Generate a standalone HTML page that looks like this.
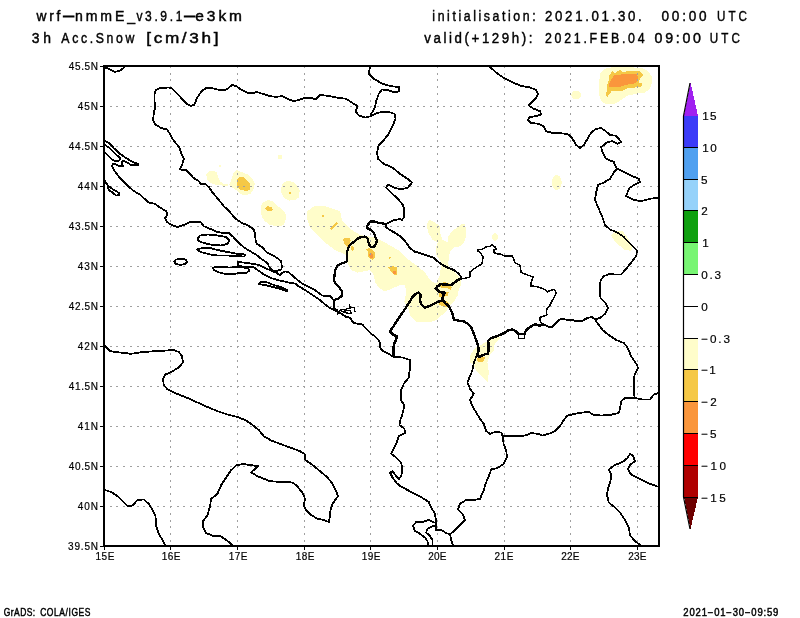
<!DOCTYPE html><html><head><meta charset="utf-8"><title>wrf-nmmE 3h Acc.Snow</title>
<style>html,body{margin:0;padding:0;background:#fff}svg{display:block}text{font-family:"Liberation Sans",sans-serif;fill:#000}</style></head><body>
<svg width="800" height="618" viewBox="0 0 800 618">
<rect width="800" height="618" fill="#fff"/>
<defs><clipPath id="cp"><rect x="104.4" y="65.9" width="555.0" height="479.7"/></clipPath></defs>
<g clip-path="url(#cp)">
<g shape-rendering="crispEdges">
<polygon fill="#fffdca" points="600.0,73.8 605.0,68.8 612.5,67.2 630.0,67.2 642.5,68.1 648.1,71.2 651.5,76.2 651.9,82.5 650.0,88.8 645.0,92.5 635.0,94.0 627.5,95.6 621.2,100.0 615.0,103.8 607.5,104.4 601.9,101.9 599.4,96.2 598.8,88.8 599.4,80.0"/>
<polygon fill="#fffdca" points="581.2,95.0 580.8,97.0 579.4,98.5 577.4,99.4 575.1,99.4 573.1,98.5 571.7,97.0 571.2,95.0 571.7,93.0 573.1,91.5 575.1,90.6 577.4,90.6 579.4,91.5 580.8,93.0"/>
<polygon fill="#fffdca" points="561.8,182.5 561.3,185.8 559.9,188.4 557.9,189.8 555.6,189.8 553.6,188.4 552.2,185.8 551.8,182.5 552.2,179.2 553.6,176.6 555.6,175.2 557.9,175.2 559.9,176.6 561.3,179.2"/>
<polygon fill="#fffdca" points="498.0,237.0 497.7,238.7 496.9,240.1 495.7,240.9 494.3,240.9 493.1,240.1 492.3,238.7 492.0,237.0 492.3,235.3 493.1,233.9 494.3,233.1 495.7,233.1 496.9,233.9 497.7,235.3"/>
<polygon fill="#fffdca" points="611.2,235.0 616.2,231.2 622.5,231.2 627.5,237.5 632.5,246.2 631.2,250.8 625.0,250.0 618.8,245.0 613.8,240.0"/>
<polygon fill="#fffdca" points="206.2,175.0 208.1,171.9 212.5,170.6 216.9,172.5 218.1,176.9 220.0,181.2 223.8,183.8 227.5,184.0 227.5,185.6 222.5,185.6 216.2,185.0 211.2,183.1 207.5,180.0"/>
<polygon fill="#fffdca" points="221.0,166.0 220.9,166.4 220.6,166.8 220.2,167.0 219.8,167.0 219.4,166.8 219.1,166.4 219.0,166.0 219.1,165.6 219.4,165.2 219.8,165.0 220.2,165.0 220.6,165.2 220.9,165.6"/>
<polygon fill="#fffdca" points="233.1,173.8 236.2,170.0 241.2,171.9 247.5,174.4 252.5,178.8 254.8,183.1 253.8,188.8 250.6,193.8 245.0,195.6 240.0,193.8 236.2,190.0 231.9,187.5 229.4,184.4 231.2,180.0"/>
<polygon fill="#fffdca" points="281.2,187.5 283.1,183.1 287.5,181.0 293.1,181.9 296.9,185.0 299.8,190.0 298.8,197.5 295.0,200.0 288.8,200.6 283.8,197.5 281.5,193.1"/>
<polygon fill="#fffdca" points="261.2,205.0 263.8,201.9 268.1,200.0 273.8,201.9 278.1,206.2 282.5,210.0 285.6,213.8 285.6,220.0 283.8,225.0 277.5,226.5 270.0,225.0 265.0,221.2 261.9,217.5 261.0,211.2"/>
<polygon fill="#fffdca" points="282.5,157.0 282.3,158.1 281.6,159.0 280.6,159.4 279.4,159.4 278.4,159.0 277.7,158.1 277.5,157.0 277.7,155.9 278.4,155.0 279.4,154.6 280.6,154.6 281.6,155.0 282.3,155.9"/>
<polygon fill="#fffdca" points="307.5,211.2 315.0,205.5 325.0,206.2 340.0,211.2 342.0,220.0 350.0,228.8 360.0,235.0 375.0,237.5 385.0,242.5 400.0,251.2 407.5,258.8 417.5,266.2 425.0,272.5 430.0,280.0 436.2,283.8 440.0,275.0 441.2,262.5 436.2,255.0 436.2,247.5 437.5,242.5 432.5,240.0 430.6,236.2 428.1,232.5 427.2,227.5 427.5,223.1 429.4,220.0 433.8,221.9 437.5,224.4 440.0,226.9 440.6,235.0 442.5,240.0 447.5,241.9 448.1,236.2 452.5,231.2 457.5,226.9 461.2,224.4 465.0,224.4 465.6,226.9 465.6,237.5 463.8,243.1 458.8,246.9 453.8,247.5 450.0,251.9 448.8,257.5 448.1,265.0 452.5,270.0 458.0,275.0 461.2,280.0 461.2,284.5 458.8,289.5 457.5,295.8 453.8,302.0 450.0,305.8 447.5,309.5 442.5,314.5 436.2,320.0 430.0,322.0 416.2,322.0 410.0,315.8 408.8,309.5 404.4,302.0 406.2,292.0 405.0,285.0 400.0,285.0 391.2,288.8 385.0,291.5 378.8,287.6 375.0,282.0 373.8,275.0 370.0,270.0 357.5,272.5 351.2,270.0 347.5,262.5 346.2,255.0 335.0,250.0 325.0,242.5 317.5,235.0 310.0,227.5 307.0,218.8"/>
<polygon fill="#fffdca" points="497.8,236.9 497.5,238.5 496.7,239.7 495.6,240.4 494.4,240.4 493.3,239.7 492.5,238.5 492.2,236.9 492.5,235.3 493.3,234.1 494.4,233.4 495.6,233.4 496.7,234.1 497.5,235.3"/>
<polygon fill="#fffdca" points="471.0,354.0 475.0,348.0 481.0,345.0 486.0,342.0 490.0,339.5 495.0,336.5 501.0,337.0 497.0,341.0 494.0,346.0 493.5,351.0 490.0,355.0 487.5,362.5 488.8,372.5 487.5,382.0 482.5,377.5 476.2,371.2 473.8,365.0 470.0,362.5 470.0,356.0"/>
<polygon fill="#f5c846" points="609.4,75.0 612.5,71.2 614.4,73.1 620.0,70.2 623.1,71.9 630.0,71.0 640.0,71.0 643.8,75.2 640.0,78.8 638.8,82.5 642.5,83.8 641.2,86.9 635.0,87.5 627.5,88.1 622.5,90.6 611.9,91.0 609.4,93.8 607.5,96.9 605.6,94.4 607.5,90.0 607.2,84.4 608.8,80.6"/>
<polygon fill="#f5c846" points="236.9,180.0 240.0,176.9 243.8,177.2 246.9,180.0 250.0,183.8 249.8,190.0 246.2,191.0 241.2,190.0 237.5,187.5"/>
<polygon fill="#f5c846" points="265.0,208.1 267.5,206.2 271.2,206.9 273.1,209.4 271.9,211.0 267.5,210.6"/>
<polygon fill="#f5c846" points="291.1,192.8 291.0,193.2 290.7,193.6 290.2,193.8 289.8,193.8 289.3,193.6 289.0,193.2 288.9,192.8 289.0,192.3 289.3,191.9 289.8,191.7 290.2,191.7 290.7,191.9 291.0,192.3"/>
<polygon fill="#f5c846" points="331.2,230.2 330.0,228.4 333.0,225.5 336.6,221.8 338.2,223.2 334.5,227.5"/>
<polygon fill="#f5c846" points="324.0,216.0 323.9,216.4 323.6,216.8 323.2,217.0 322.8,217.0 322.4,216.8 322.1,216.4 322.0,216.0 322.1,215.6 322.4,215.2 322.8,215.0 323.2,215.0 323.6,215.2 323.9,215.6"/>
<polygon fill="#f5c846" points="343.1,238.8 345.6,238.1 349.4,238.1 350.6,240.6 350.0,243.8 348.1,246.9 346.2,246.2 343.8,243.1"/>
<polygon fill="#f5c846" points="353.9,248.4 353.7,249.4 353.3,250.1 352.6,250.5 351.8,250.5 351.1,250.1 350.7,249.4 350.5,248.4 350.7,247.4 351.1,246.7 351.8,246.3 352.6,246.3 353.3,246.7 353.7,247.4"/>
<polygon fill="#f5c846" points="366.2,249.4 368.8,248.1 372.5,250.0 374.8,252.5 375.0,257.5 373.1,259.8 370.0,258.8 368.1,256.9 368.5,252.5"/>
<polygon fill="#f5c846" points="390.8,257.8 390.7,258.2 390.4,258.5 390.0,258.7 389.6,258.7 389.2,258.5 388.9,258.2 388.8,257.8 388.9,257.3 389.2,257.0 389.6,256.8 390.0,256.8 390.4,257.0 390.7,257.3"/>
<polygon fill="#f5c846" points="388.1,266.9 392.5,266.2 396.9,266.9 396.9,275.0 393.8,274.4 390.0,270.0"/>
<polygon fill="#f5c846" points="439.5,286.0 443.1,282.0 448.0,282.8 452.0,287.6 450.5,290.2 447.5,288.0 442.5,288.4"/>
<polygon fill="#f5c846" points="438.8,293.0 443.8,291.2 449.0,292.2 447.5,295.6 442.5,297.8 439.5,296.8"/>
<polygon fill="#f5c846" points="438.0,302.2 442.5,298.8 446.0,301.0 449.0,304.0 446.5,306.6 442.5,306.3 439.3,304.5"/>
<polygon fill="#f5c846" points="476.2,358.8 480.0,356.2 485.0,357.5 483.8,361.2 478.8,362.5"/>
<polygon fill="#fa963c" points="613.8,75.6 621.2,74.4 630.0,73.5 636.9,73.8 637.8,77.5 636.9,81.9 633.8,83.8 628.8,84.4 622.5,86.0 620.0,87.2 609.4,87.5 609.0,84.4 611.2,80.0"/>
<polygon fill="#fa963c" points="369.4,253.8 371.9,253.1 373.1,255.6 372.8,258.5 370.6,258.1 369.4,256.2"/>
<polygon fill="#fa963c" points="393.1,271.2 396.2,271.2 396.2,274.4 393.1,274.4"/>
</g>
<g stroke="#a0a0a0" stroke-width="1" stroke-dasharray="2 4.67" fill="none" shape-rendering="crispEdges">
<line x1="170.5" y1="66.15" x2="170.5" y2="545.6"/>
<line x1="237.5" y1="66.15" x2="237.5" y2="545.6"/>
<line x1="304.5" y1="66.15" x2="304.5" y2="545.6"/>
<line x1="370.5" y1="66.15" x2="370.5" y2="545.6"/>
<line x1="437.5" y1="66.15" x2="437.5" y2="545.6"/>
<line x1="504.5" y1="66.15" x2="504.5" y2="545.6"/>
<line x1="570.5" y1="66.15" x2="570.5" y2="545.6"/>
<line x1="637.5" y1="66.15" x2="637.5" y2="545.6"/>
<line x1="103.15" y1="106.5" x2="659.4" y2="106.5"/>
<line x1="103.15" y1="146.5" x2="659.4" y2="146.5"/>
<line x1="103.15" y1="186.5" x2="659.4" y2="186.5"/>
<line x1="103.15" y1="226.5" x2="659.4" y2="226.5"/>
<line x1="103.15" y1="266.5" x2="659.4" y2="266.5"/>
<line x1="103.15" y1="306.5" x2="659.4" y2="306.5"/>
<line x1="103.15" y1="346.5" x2="659.4" y2="346.5"/>
<line x1="103.15" y1="386.5" x2="659.4" y2="386.5"/>
<line x1="103.15" y1="426.5" x2="659.4" y2="426.5"/>
<line x1="103.15" y1="466.5" x2="659.4" y2="466.5"/>
<line x1="103.15" y1="506.5" x2="659.4" y2="506.5"/>
</g>
<g stroke="#000" fill="none" stroke-linejoin="round" stroke-linecap="round" shape-rendering="crispEdges">
<polyline stroke-width="1.8" points="105.0,67.5 108.8,68.8 115.0,72.0 120.0,70.5 123.8,68.0"/>
<polyline stroke-width="1.8" points="154.5,93.8 155.0,92.0 156.2,90.0 160.0,88.0 168.8,87.5 172.5,88.8 177.5,93.8 182.5,99.5 187.5,104.5 190.5,106.0 194.0,105.0 196.2,100.0 198.8,95.0 202.5,90.5 206.2,88.0 211.2,88.0 217.5,89.5 224.5,90.5 227.5,88.8 232.0,85.0 236.2,86.2 242.5,90.5 248.8,93.2 253.0,93.2 257.0,92.0 262.5,93.8 270.0,96.2 276.2,96.8 282.5,96.2 287.5,98.8 293.8,101.2 300.0,99.5 305.0,98.0 311.2,98.0 315.5,99.5 320.0,95.0 327.5,95.8 336.2,97.5 346.2,98.8 352.5,103.0 357.5,106.2 355.5,111.2 358.8,115.5 365.5,117.5 371.2,116.2"/>
<polyline stroke-width="1.8" points="154.5,93.8 154.5,100.0 155.0,107.5 153.8,113.8 153.0,120.0 155.5,124.5 161.2,128.0 167.0,129.5 170.0,133.8 172.5,138.8 176.2,143.8 179.5,147.5 181.2,153.8 183.8,158.8 182.5,163.8 180.0,169.5 186.2,170.0 190.0,173.8 193.0,177.5 198.8,181.2 200.5,183.8 205.0,183.9 208.8,186.9 212.5,192.5 218.5,199.5 223.5,205.8 229.8,212.0 235.0,218.2 241.2,222.5 248.5,225.8 253.8,229.5 255.0,233.8 255.6,240.0 256.9,243.8 262.5,247.5 266.2,251.9 272.5,255.0 278.1,258.8 281.2,261.2 281.9,266.9 281.2,269.4 277.5,270.6 273.8,271.2 271.2,269.4 268.8,266.2 267.5,263.1 261.2,258.8 255.0,253.8 248.8,250.6 242.5,246.2 236.2,240.0 232.5,236.2 228.8,233.0 223.8,233.0 217.5,232.0 210.0,228.8 203.8,226.2 201.2,222.5 196.2,221.8 190.0,222.0 183.8,225.0 177.5,227.0 172.5,225.5 167.0,222.0 165.0,218.0 167.5,215.0 166.2,211.2 160.0,207.5 155.0,203.8 148.8,202.5 143.8,198.1 140.0,194.4 136.2,192.5 132.5,190.0 127.5,185.6 121.9,180.0 117.5,175.0 113.8,170.0 111.9,165.6 113.1,163.8 116.2,164.4 119.4,166.2 123.1,166.2 121.9,163.1 122.5,160.6 126.2,161.9 131.2,165.0 138.1,165.2 138.1,164.0 132.5,161.9 126.2,158.1 120.0,153.8 113.8,148.1 109.4,143.1 105.0,141.2"/>
<polyline stroke-width="1.8" points="105.0,145.0 108.8,147.5 113.8,152.5 118.1,156.2 120.6,158.1 119.4,160.6 115.0,161.2 112.5,160.0 108.8,156.2 105.6,153.1"/>
<polyline stroke-width="1.8" points="105.0,181.2 107.5,185.0 108.8,190.0 112.5,192.5 116.2,195.6 118.8,195.0 119.4,193.1 115.0,190.6 111.2,188.1 107.5,185.0"/>
<polyline stroke-width="1.8" points="370.0,67.0 368.8,73.8 373.8,78.8 382.5,83.8 391.2,86.2 398.8,87.0 398.8,91.2 395.0,92.5 387.5,90.0 382.0,89.5 378.8,93.8 376.2,101.2 375.0,107.5 371.2,113.8 371.2,116.2"/>
<polyline stroke-width="1.8" points="371.2,116.2 375.0,113.8 381.2,112.0 388.8,112.0 394.5,113.8 395.5,118.8 392.5,126.2 388.8,133.8 383.8,140.0 378.8,145.0 377.0,152.5 378.0,158.8 383.8,163.8 392.5,167.5 400.0,173.8 407.5,178.8 412.0,182.5 408.0,187.5 401.2,189.5 393.8,187.5 387.5,184.5 386.2,187.5 391.2,192.5 398.8,200.0 403.1,205.0 404.4,211.2 403.8,217.5 401.9,220.0 400.0,219.0 392.5,220.6 386.2,224.0"/>
<polyline stroke-width="2.3" points="386.2,224.0 380.0,223.1 373.8,221.5 370.6,221.5 368.1,224.4 366.6,226.9 368.1,228.8 371.2,230.0 373.8,233.1 375.6,237.5 376.9,240.6 376.0,243.8 374.4,246.5 371.2,246.9 369.4,245.0 368.1,241.2 367.5,238.1 365.0,236.6 361.2,236.9 357.5,238.8 353.8,241.9 350.0,245.0 348.1,248.1 346.9,252.5 347.2,256.9 347.2,261.0 344.4,262.5 340.0,264.0 336.9,266.2 335.0,271.2 334.4,277.0 333.8,280.8 336.2,284.5 340.0,288.2 342.2,292.0 341.9,295.8 338.8,298.2 334.4,300.1 334.0,304.5 334.4,308.2 336.9,310.5"/>
<polyline stroke-width="1.9" points="386.2,224.0 386.2,226.9 388.8,229.4 395.0,232.8 400.0,236.2 403.8,239.4 406.9,243.8 410.0,248.1 414.4,251.5 420.0,253.1 426.2,255.2 433.8,257.8 437.5,261.2 442.5,265.0 448.8,268.1 453.8,270.0 458.1,273.1 461.2,277.0 461.2,278.5"/>
<polyline stroke-width="2.8" points="461.2,278.5 457.5,280.1 454.4,282.6 451.2,285.1 446.2,284.8 441.2,283.9 438.1,285.8 435.6,288.5 437.5,290.1 440.0,292.0 444.4,292.6 443.1,295.8 442.5,300.1"/>
<polyline stroke-width="2.4" points="442.5,300.1 436.2,302.6 430.0,305.8 425.0,307.6 421.9,305.1 420.0,300.8 420.6,295.1 418.8,292.6 415.6,293.9 412.5,297.0 408.8,303.2 403.8,310.8 400.0,316.4 396.9,320.8 393.8,325.8 390.0,331.4 393.1,334.5 396.9,336.4 396.2,339.5 394.4,343.2 393.1,348.2 393.1,354.0 393.8,357.0"/>
<polyline stroke-width="2.4" points="442.5,300.1 446.2,303.9 449.4,307.0 451.2,310.8 453.1,315.8 453.8,319.5 458.8,320.8 463.8,321.4 468.1,323.9 471.2,327.0 473.1,332.0 475.0,337.0 476.9,342.0 478.1,346.4 478.8,350.0 477.5,354.0 478.8,357.0"/>
<polyline stroke-width="1.45" points="461.2,278.5 465.0,278.2 468.1,277.6 470.0,277.0 470.0,271.9 473.8,268.8 478.1,266.2 481.9,263.8 482.5,260.0 483.1,256.9 481.2,253.8 478.1,251.2 477.5,249.8 481.9,249.4 486.2,246.9 490.0,246.2 492.1,244.4 495.0,246.9 496.2,249.4 493.8,250.0 494.0,252.5 496.9,253.8 500.0,254.0 505.0,256.2 512.5,256.2 515.0,262.5 520.0,265.5 521.2,272.5 527.5,275.0 533.1,277.0 531.2,282.0 530.6,285.8 535.0,286.4 540.0,287.6 543.8,288.9 547.5,291.8 550.0,290.5 554.4,289.5 556.2,292.6 555.0,295.8 552.5,300.1 550.0,305.1 546.2,310.1 546.9,315.1 542.5,316.4 539.8,317.6 540.0,320.8 542.5,324.2"/>
<polyline stroke-width="2.5" points="478.8,357.0 486.2,353.8 488.1,354.0 488.8,347.0 488.1,340.8 490.6,338.2 496.2,336.4 502.5,333.9 508.8,330.1 512.5,329.5 515.6,331.0 518.1,333.9 524.4,333.9 526.2,330.1 530.0,327.0 535.0,324.2 540.0,325.8 542.5,324.2"/>
<polyline stroke-width="1.3" points="518.1,333.9 518.8,338.2 524.4,338.2 525.0,333.9"/>
<polyline stroke-width="1.8" points="542.5,324.2 545.0,325.1 548.8,327.0 552.5,326.8 556.2,322.6 560.6,318.9 567.5,319.8 573.1,320.1 576.2,321.4 581.2,321.2 587.5,318.0 592.0,317.0 595.0,319.5"/>
<polyline stroke-width="1.8" points="490.0,67.0 496.2,72.5 503.8,78.0 512.5,82.5 521.2,85.8 530.0,87.5 536.2,90.0 538.0,93.8 535.5,98.8 531.2,102.5 528.8,105.5 533.8,108.8 540.0,111.2 541.2,114.5 536.2,116.2 530.0,117.0 527.5,120.0 531.2,123.0 538.8,123.8 543.8,126.2 546.2,131.2 552.5,133.0 561.2,133.2 568.8,134.5 572.5,138.8 576.2,145.0 580.0,148.0 583.8,145.0 587.5,138.8 591.2,132.5 596.2,128.8 601.2,128.2 605.0,130.5 610.0,135.0 616.2,135.8 618.8,138.8 621.2,142.0 617.5,143.8 612.5,141.2 607.5,142.0 601.2,147.0 602.5,152.5 606.2,158.8 613.8,162.0 616.2,167.5 617.0,168.8"/>
<polyline stroke-width="1.8" points="617.0,168.8 613.8,172.5 610.0,178.8 603.8,182.5 598.0,185.0 596.2,192.5 595.0,200.0 598.8,208.8 602.5,217.5 605.0,225.0 610.0,229.5 617.5,232.5 623.8,237.0 628.8,242.5 633.8,247.5 637.0,250.5 636.2,256.2 631.2,262.5 626.2,268.8 621.2,274.5 615.0,274.5 610.0,273.8 603.8,276.2 600.5,280.5 600.0,290.0 600.5,298.0 605.0,302.5 608.0,307.5 605.0,313.8 600.0,318.0 595.0,319.5"/>
<polyline stroke-width="1.8" points="617.0,168.8 625.0,172.5 632.5,176.2 638.8,178.8 640.0,182.0 635.0,184.5 630.0,187.5 627.5,192.5 626.2,196.2 632.5,199.5 641.2,201.2 650.0,198.8 659.0,197.5"/>
<polyline stroke-width="1.8" points="595.0,319.5 598.8,325.0 602.5,330.0 608.8,335.0 616.2,340.0 623.8,343.0 627.5,347.5 631.2,356.2 636.2,363.8 638.0,367.5 634.5,375.0 633.8,385.0 634.5,398.0"/>
<polyline stroke-width="1.8" points="634.5,398.0 642.5,399.5 650.0,399.5 653.8,394.5 659.0,393.0"/>
<polyline stroke-width="1.8" points="634.5,398.0 625.0,398.0 621.2,401.2 620.0,408.8 618.8,413.0 610.0,415.0 601.2,415.5 593.8,415.0 588.8,412.0 582.5,412.5 575.0,413.8 567.5,415.5 563.8,420.0 560.0,426.2 555.0,431.2 548.8,433.8 542.5,435.5 538.8,433.8 531.2,433.2 525.0,435.5 515.0,436.2 502.5,436.2"/>
<polyline stroke-width="1.8" points="478.8,357.0 477.0,355.0 473.8,362.5 472.5,370.0 470.0,376.2 467.5,382.5 470.0,388.8 473.8,393.8 470.0,400.0 472.5,406.2 476.2,412.5 480.0,418.8 483.8,423.8 486.2,431.2 490.0,433.8 495.0,432.0 501.2,432.5 502.5,436.2"/>
<polyline stroke-width="1.8" points="502.5,436.2 503.8,445.0 506.2,450.0 507.0,457.5 503.8,463.8 497.5,468.0 491.2,469.5 488.8,476.2 485.5,483.8 483.8,490.0 480.0,498.8 473.8,500.0 466.2,500.0 460.0,503.8 458.0,509.5 462.5,513.8 465.0,520.0 461.2,523.8 455.0,530.0 450.0,534.5 446.2,533.0 441.2,530.0 436.2,530.0"/>
<polyline stroke-width="1.8" points="450.0,534.5 451.2,540.0 453.0,545.5"/>
<polyline stroke-width="1.8" points="271.2,270.6 276.2,272.8 280.0,274.8 282.5,272.8 285.0,271.5 288.1,271.9 292.5,275.6 297.5,280.0 302.5,283.8 308.8,286.9 315.0,290.0 318.8,293.1 322.5,295.6 330.0,295.6 333.1,299.5 334.4,300.1"/>
<polyline stroke-width="1.8" points="237.5,262.5 238.1,265.0 243.8,266.9 253.1,266.9 257.5,270.0 263.8,274.4 271.2,278.1 280.0,280.6 288.8,282.5 296.2,283.8 297.5,285.6 305.0,290.0 312.5,295.0 320.0,300.0 325.0,304.4 330.5,308.4 337.5,311.4 342.5,314.5 346.2,317.0 350.0,317.6 351.9,320.8 354.4,323.2 358.8,323.9 362.5,324.5 365.0,327.6 368.1,330.8 371.2,333.9 375.0,336.4 378.1,339.5 380.0,343.2 380.0,347.6 382.5,350.8 386.2,352.5 393.8,357.0 402.5,357.5 410.0,360.0 410.0,367.5 408.8,377.5 403.8,383.8 400.8,391.2 400.8,400.0 404.5,405.5 402.5,413.8 400.0,421.2 399.5,425.0 404.5,428.8 405.0,433.0 398.8,436.2 396.2,443.8 393.0,450.0 391.2,453.8 396.2,457.5 401.2,462.5 402.5,470.0 401.2,476.2 398.8,479.2 396.2,476.2 392.5,471.2 390.0,472.5 392.5,477.5 396.2,482.5 400.0,486.2 407.5,490.0 415.0,493.8 422.5,498.0 428.8,502.0 431.2,507.5 435.0,513.8 436.2,522.5 436.2,530.0"/>
<polyline stroke-width="1.8" points="237.5,262.5 238.8,261.9 245.0,262.8 252.5,263.8 258.8,265.0 265.0,268.1 271.2,270.6"/>
<polyline stroke-width="1.2" points="337.5,311.0 337.5,314.0 340.0,310.2 346.2,309.0 350.0,308.2 349.4,304.8 350.6,307.0 354.4,307.6 355.0,312.0"/>
<polyline stroke-width="1.2" points="341.2,310.8 343.8,312.6 348.8,313.2 351.2,313.2 350.0,310.8 346.2,310.8 342.5,311.4"/>
<polyline stroke-width="1.6" points="394.3,343.0 394.3,357.0"/>
<polyline stroke-width="1.8" points="197.5,238.8 200.0,235.5 207.5,234.5 217.5,235.5 226.2,237.0 229.5,240.5 227.5,243.8 221.2,245.5 212.5,245.0 203.8,243.0 198.8,241.2 197.5,238.8"/>
<polyline stroke-width="1.8" points="197.0,249.5 202.5,248.0 210.0,248.0 217.5,250.0 227.5,252.0 237.5,253.8 245.0,254.5 244.5,256.5 236.2,256.2 227.5,255.5 217.5,255.5 210.0,254.5 202.5,252.5 198.8,251.2 197.0,249.5"/>
<polyline stroke-width="1.8" points="174.2,261.8 176.0,259.5 180.8,258.8 185.5,259.5 187.2,261.8 185.5,264.0 180.8,264.9 176.0,264.0 174.2,261.8"/>
<polyline stroke-width="1.8" points="213.0,267.5 220.0,267.0 230.0,267.5 240.0,267.0 247.5,268.0 249.5,270.5 246.2,273.0 238.8,273.0 232.5,274.2 225.0,273.8 217.5,272.0 213.8,270.0 213.0,267.5"/>
<polyline stroke-width="1.8" points="258.8,283.8 261.2,281.9 267.5,282.5 273.8,285.0 280.0,286.9 285.0,288.8 287.5,290.0 286.9,291.2 280.0,288.8 272.5,286.9 265.0,285.0 260.0,284.4 258.8,283.8"/>
<polyline stroke-width="1.8" points="105.0,346.2 110.0,351.2 120.0,352.5 131.2,353.8 142.5,352.0 155.0,351.2 166.2,350.5 173.8,350.0 178.8,352.0 182.0,356.2 183.0,362.5 178.8,367.5 172.5,371.2 165.5,374.5 163.0,378.8 163.8,385.0 167.5,389.5 172.5,392.0 180.0,395.0 187.5,398.0 197.5,402.5 207.5,407.0 217.5,411.2 227.5,414.5 237.5,417.0 246.2,420.5 252.5,425.0 258.8,430.0 263.8,436.2 271.2,440.5 280.0,443.8 290.0,447.5 300.0,451.2 304.5,453.8 305.5,460.0 312.5,465.0 320.0,471.2 327.5,477.5 332.5,483.8 336.2,491.2 338.0,496.2 332.5,503.8 330.5,510.0 330.0,516.2 328.8,522.0 323.8,520.0 317.5,518.8 311.2,515.0 306.2,510.0 303.8,505.5 305.0,498.8 302.5,492.5 300.0,490.0 297.5,486.2 292.5,482.5 282.5,482.0 270.0,481.2 257.5,476.2 251.2,472.5 255.0,468.8 258.0,466.2 250.0,465.0 242.5,464.0 236.2,465.5 231.2,470.0 226.2,477.5 221.2,485.0 217.5,493.8 211.2,498.8 210.0,506.2 207.5,515.0 203.0,521.2 203.0,527.5 206.2,533.0 212.5,535.8 220.0,535.8 226.2,540.0 232.5,545.0"/>
<polyline stroke-width="1.8" points="105.0,490.0 111.2,492.0 117.5,496.2 122.5,501.2 127.5,506.2 132.5,505.5 137.5,500.0 143.8,499.5 148.8,503.8 152.5,510.0 155.5,516.2 156.2,526.2 158.8,533.8 162.5,540.0 165.5,545.5"/>
<polyline stroke-width="1.8" points="436.2,523.0 432.5,522.0 428.8,520.0 422.5,522.0 416.2,522.0 413.0,525.5 414.5,530.5 420.0,533.8 425.0,537.5 427.5,541.2 428.0,545.5"/>
<polyline stroke-width="1.8" points="436.0,525.5 432.5,526.2 427.5,528.8 426.2,532.5 430.0,536.2 432.5,540.0 432.5,545.5"/>
<polyline stroke-width="1.8" points="659.0,487.0 650.0,483.8 640.0,478.8 631.2,474.5 628.0,469.5 630.0,465.0 635.0,461.2 633.0,455.5 630.0,453.8 627.5,458.0 622.5,462.0 615.0,465.0 608.8,469.5 611.2,475.0 610.5,481.2 608.0,488.8 607.0,495.0 608.8,502.5 615.0,507.5 620.0,512.5 625.0,520.0 628.8,527.5 630.0,535.0 633.8,540.0 640.0,545.0"/>
<polyline stroke-width="1.8" points="658.5,487.0 658.5,496.0"/>
</g>
</g>
<rect x="104.4" y="65.9" width="555.0" height="479.70000000000005" fill="none" stroke="#000" stroke-width="2" shape-rendering="crispEdges"/>
<g stroke="#000" stroke-width="1.3" shape-rendering="crispEdges">
<line x1="100" y1="66.5" x2="104" y2="66.5"/>
<line x1="100" y1="106.5" x2="104" y2="106.5"/>
<line x1="100" y1="146.5" x2="104" y2="146.5"/>
<line x1="100" y1="186.5" x2="104" y2="186.5"/>
<line x1="100" y1="226.5" x2="104" y2="226.5"/>
<line x1="100" y1="266.5" x2="104" y2="266.5"/>
<line x1="100" y1="306.5" x2="104" y2="306.5"/>
<line x1="100" y1="346.5" x2="104" y2="346.5"/>
<line x1="100" y1="386.5" x2="104" y2="386.5"/>
<line x1="100" y1="426.5" x2="104" y2="426.5"/>
<line x1="100" y1="466.5" x2="104" y2="466.5"/>
<line x1="100" y1="506.5" x2="104" y2="506.5"/>
<line x1="100" y1="546.5" x2="104" y2="546.5"/>
<line x1="104.5" y1="547" x2="104.5" y2="550"/>
<line x1="170.5" y1="547" x2="170.5" y2="550"/>
<line x1="237.5" y1="547" x2="237.5" y2="550"/>
<line x1="304.5" y1="547" x2="304.5" y2="550"/>
<line x1="370.5" y1="547" x2="370.5" y2="550"/>
<line x1="437.5" y1="547" x2="437.5" y2="550"/>
<line x1="504.5" y1="547" x2="504.5" y2="550"/>
<line x1="570.5" y1="547" x2="570.5" y2="550"/>
<line x1="637.5" y1="547" x2="637.5" y2="550"/>
</g>
<g style="opacity:0.999">
<text transform="translate(68.70,70.3) scale(1.0,1)" font-size="10" textLength="29.36" lengthAdjust="spacing" stroke="#000" stroke-width="0.2" xml:space="preserve">45.5N</text>
<text transform="translate(77.70,110.3) scale(1.0,1)" font-size="10" textLength="20.36" lengthAdjust="spacing" stroke="#000" stroke-width="0.2" xml:space="preserve">45N</text>
<text transform="translate(68.70,150.3) scale(1.0,1)" font-size="10" textLength="29.36" lengthAdjust="spacing" stroke="#000" stroke-width="0.2" xml:space="preserve">44.5N</text>
<text transform="translate(77.70,190.3) scale(1.0,1)" font-size="10" textLength="20.36" lengthAdjust="spacing" stroke="#000" stroke-width="0.2" xml:space="preserve">44N</text>
<text transform="translate(68.70,230.3) scale(1.0,1)" font-size="10" textLength="29.36" lengthAdjust="spacing" stroke="#000" stroke-width="0.2" xml:space="preserve">43.5N</text>
<text transform="translate(77.70,270.3) scale(1.0,1)" font-size="10" textLength="20.36" lengthAdjust="spacing" stroke="#000" stroke-width="0.2" xml:space="preserve">43N</text>
<text transform="translate(68.70,310.3) scale(1.0,1)" font-size="10" textLength="29.36" lengthAdjust="spacing" stroke="#000" stroke-width="0.2" xml:space="preserve">42.5N</text>
<text transform="translate(77.70,350.3) scale(1.0,1)" font-size="10" textLength="20.36" lengthAdjust="spacing" stroke="#000" stroke-width="0.2" xml:space="preserve">42N</text>
<text transform="translate(68.70,390.3) scale(1.0,1)" font-size="10" textLength="29.36" lengthAdjust="spacing" stroke="#000" stroke-width="0.2" xml:space="preserve">41.5N</text>
<text transform="translate(77.70,430.3) scale(1.0,1)" font-size="10" textLength="20.36" lengthAdjust="spacing" stroke="#000" stroke-width="0.2" xml:space="preserve">41N</text>
<text transform="translate(68.70,470.3) scale(1.0,1)" font-size="10" textLength="29.36" lengthAdjust="spacing" stroke="#000" stroke-width="0.2" xml:space="preserve">40.5N</text>
<text transform="translate(77.70,510.3) scale(1.0,1)" font-size="10" textLength="20.36" lengthAdjust="spacing" stroke="#000" stroke-width="0.2" xml:space="preserve">40N</text>
<text transform="translate(68.11,550.3) scale(1.0,1)" font-size="10" textLength="29.96" lengthAdjust="spacing" stroke="#000" stroke-width="0.2" xml:space="preserve">39.5N</text>
<text transform="translate(95.47,559.7) scale(1.0,1)" font-size="10" textLength="18.89" lengthAdjust="spacing" stroke="#000" stroke-width="0.2" xml:space="preserve">15E</text>
<text transform="translate(161.74,559.7) scale(1.0,1)" font-size="10" textLength="18.62" lengthAdjust="spacing" stroke="#000" stroke-width="0.2" xml:space="preserve">16E</text>
<text transform="translate(228.74,559.7) scale(1.0,1)" font-size="10" textLength="18.62" lengthAdjust="spacing" stroke="#000" stroke-width="0.2" xml:space="preserve">17E</text>
<text transform="translate(295.74,559.7) scale(1.0,1)" font-size="10" textLength="18.62" lengthAdjust="spacing" stroke="#000" stroke-width="0.2" xml:space="preserve">18E</text>
<text transform="translate(361.74,559.7) scale(1.0,1)" font-size="10" textLength="18.62" lengthAdjust="spacing" stroke="#000" stroke-width="0.2" xml:space="preserve">19E</text>
<text transform="translate(428.35,559.7) scale(1.0,1)" font-size="10" textLength="18.12" lengthAdjust="spacing" stroke="#000" stroke-width="0.2" xml:space="preserve">20E</text>
<text transform="translate(494.38,559.7) scale(1.0,1)" font-size="10" textLength="19.08" lengthAdjust="spacing" stroke="#000" stroke-width="0.2" xml:space="preserve">21E</text>
<text transform="translate(561.35,559.7) scale(1.0,1)" font-size="10" textLength="18.12" lengthAdjust="spacing" stroke="#000" stroke-width="0.2" xml:space="preserve">22E</text>
<text transform="translate(628.35,559.7) scale(1.0,1)" font-size="10" textLength="18.12" lengthAdjust="spacing" stroke="#000" stroke-width="0.2" xml:space="preserve">23E</text>
<text transform="translate(36.59,20.8) scale(0.952,1)" font-size="14.5" textLength="25.02" lengthAdjust="spacing" stroke="#000" stroke-width="0.45" xml:space="preserve">wrf</text>
<text transform="translate(62.33,20.8) scale(1.45,1)" font-size="14.5" stroke="#000" stroke-width="1.0" xml:space="preserve">−</text>
<text transform="translate(74.98,20.8) scale(0.974,1)" font-size="14.5" textLength="61.63" lengthAdjust="spacing" stroke="#000" stroke-width="0.45" xml:space="preserve">nmmE_</text>
<text transform="translate(136.47,20.8) scale(0.831,1)" font-size="14.5" textLength="55.21" lengthAdjust="spacing" stroke="#000" stroke-width="0.45" xml:space="preserve">v3.9.1</text>
<text transform="translate(183.33,20.8) scale(1.45,1)" font-size="14.5" stroke="#000" stroke-width="1.0" xml:space="preserve">−</text>
<text transform="translate(195.31,20.8) scale(1.069,1)" font-size="14.5" textLength="43.70" lengthAdjust="spacing" stroke="#000" stroke-width="0.45" xml:space="preserve">e3km</text>
<text transform="translate(31.75,42.5) scale(0.962,1)" font-size="14.5" textLength="20.05" lengthAdjust="spacing" stroke="#000" stroke-width="0.45" xml:space="preserve">3h</text>
<text transform="translate(61.35,42.5) scale(0.847,1)" font-size="14.5" textLength="86.10" lengthAdjust="spacing" stroke="#000" stroke-width="0.45" xml:space="preserve">Acc.Snow</text>
<text transform="translate(146.18,42.5) scale(1.183,1)" font-size="14.5" textLength="61.20" lengthAdjust="spacing" stroke="#000" stroke-width="0.45" xml:space="preserve">[cm/3h]</text>
<text transform="translate(432.33,20.8) scale(0.851,1)" font-size="14.5" textLength="121.37" lengthAdjust="spacing" stroke="#000" stroke-width="0.45" xml:space="preserve">initialisation:</text>
<text transform="translate(544.99,20.8) scale(0.916,1)" font-size="14.5" textLength="105.69" lengthAdjust="spacing" stroke="#000" stroke-width="0.45" xml:space="preserve">2021.01.30.</text>
<text transform="translate(661.51,20.8) scale(0.939,1)" font-size="14.5" textLength="48.09" lengthAdjust="spacing" stroke="#000" stroke-width="0.45" xml:space="preserve">00:00</text>
<text transform="translate(716.98,20.8) scale(0.8,1)" font-size="14.5" textLength="37.47" lengthAdjust="spacing" stroke="#000" stroke-width="0.45" xml:space="preserve">UTC</text>
<text transform="translate(424.29,42.8) scale(0.917,1)" font-size="14.5" textLength="117.98" lengthAdjust="spacing" stroke="#000" stroke-width="0.45" xml:space="preserve">valid(+129h):</text>
<text transform="translate(544.95,42.8) scale(0.856,1)" font-size="14.5" textLength="116.41" lengthAdjust="spacing" stroke="#000" stroke-width="0.45" xml:space="preserve">2021.FEB.04</text>
<text transform="translate(654.52,42.8) scale(0.981,1)" font-size="14.5" textLength="47.41" lengthAdjust="spacing" stroke="#000" stroke-width="0.45" xml:space="preserve">09:00</text>
<text transform="translate(709.87,42.8) scale(0.8,1)" font-size="14.5" textLength="37.38" lengthAdjust="spacing" stroke="#000" stroke-width="0.45" xml:space="preserve">UTC</text>
<text transform="translate(3.79,615.5) scale(0.85,1)" font-size="10" textLength="36.87" lengthAdjust="spacing" stroke="#000" stroke-width="0.45" xml:space="preserve">GrADS:</text>
<text transform="translate(40.13,615.5) scale(0.85,1)" font-size="10" textLength="59.30" lengthAdjust="spacing" stroke="#000" stroke-width="0.45" xml:space="preserve">COLA/IGES</text>
<text transform="translate(683.36,615.7) scale(0.95,1)" font-size="10" textLength="100.05" lengthAdjust="spacing" stroke="#000" stroke-width="0.45" xml:space="preserve">2021−01−30−09:59</text>
<text transform="translate(702.16,119.7) scale(1.0,1)" font-size="11.7" textLength="14.26" lengthAdjust="spacing" stroke="#000" stroke-width="0.2" xml:space="preserve">15</text>
<text transform="translate(702.16,151.7) scale(1.0,1)" font-size="11.7" textLength="14.56" lengthAdjust="spacing" stroke="#000" stroke-width="0.2" xml:space="preserve">10</text>
<text transform="translate(701.11,183.7) scale(1.0,1)" font-size="11.7" stroke="#000" stroke-width="0.2" xml:space="preserve">5</text>
<text transform="translate(701.25,214.7) scale(1.0,1)" font-size="11.7" stroke="#000" stroke-width="0.2" xml:space="preserve">2</text>
<text transform="translate(702.16,246.7) scale(1.0,1)" font-size="11.7" stroke="#000" stroke-width="0.2" xml:space="preserve">1</text>
<text transform="translate(701.29,278.7) scale(1.0,1)" font-size="11.7" textLength="19.73" lengthAdjust="spacing" stroke="#000" stroke-width="0.2" xml:space="preserve">0.3</text>
<text transform="translate(701.29,310.7) scale(1.0,1)" font-size="11.7" stroke="#000" stroke-width="0.2" xml:space="preserve">0</text>
<text transform="translate(701.15,342.7) scale(1.0,1)" font-size="11.7" textLength="28.91" lengthAdjust="spacing" stroke="#000" stroke-width="0.2" xml:space="preserve">−0.3</text>
<text transform="translate(701.15,373.7) scale(1.0,1)" font-size="11.7" textLength="14.61" lengthAdjust="spacing" stroke="#000" stroke-width="0.2" xml:space="preserve">−1</text>
<text transform="translate(701.15,405.7) scale(1.0,1)" font-size="11.7" textLength="15.51" lengthAdjust="spacing" stroke="#000" stroke-width="0.2" xml:space="preserve">−2</text>
<text transform="translate(701.15,437.7) scale(1.0,1)" font-size="11.7" textLength="15.49" lengthAdjust="spacing" stroke="#000" stroke-width="0.2" xml:space="preserve">−5</text>
<text transform="translate(701.15,469.7) scale(1.0,1)" font-size="11.7" textLength="24.76" lengthAdjust="spacing" stroke="#000" stroke-width="0.2" xml:space="preserve">−10</text>
<text transform="translate(701.15,501.7) scale(1.0,1)" font-size="11.7" textLength="24.60" lengthAdjust="spacing" stroke="#000" stroke-width="0.2" xml:space="preserve">−15</text>
</g>
<g shape-rendering="crispEdges">
<polygon fill="#a020f0" points="684,116 690.5,82.5 698,116"/>
<rect x="684" y="116.0" width="14" height="31.0" fill="#3c3cf8"/>
<rect x="684" y="147.0" width="14" height="32.0" fill="#50a0f0"/>
<rect x="684" y="179.0" width="14" height="31.0" fill="#96d2fa"/>
<rect x="684" y="210.0" width="14" height="32.0" fill="#0fa00f"/>
<rect x="684" y="242.0" width="14" height="32.0" fill="#78f573"/>
<rect x="684" y="274.0" width="14" height="32.0" fill="#ffffff"/>
<rect x="684" y="306.0" width="14" height="32.0" fill="#ffffff"/>
<rect x="684" y="338.0" width="14" height="31.0" fill="#fffdca"/>
<rect x="684" y="369.0" width="14" height="32.0" fill="#f5c846"/>
<rect x="684" y="401.0" width="14" height="32.0" fill="#fa963c"/>
<rect x="684" y="433.0" width="14" height="32.0" fill="#ff0000"/>
<rect x="684" y="465.0" width="14" height="32.0" fill="#af0000"/>
<polygon fill="#6e0000" points="684,497 690.5,529 698,497"/>
</g>
<g stroke="#000" stroke-width="1" fill="none">
<polyline points="690,83 683.5,116 683.5,497 690,529" stroke-width="1.2"/>
<g shape-rendering="crispEdges">
<line x1="683" y1="147.5" x2="698" y2="147.5"/>
<line x1="683" y1="179.5" x2="698" y2="179.5"/>
<line x1="683" y1="210.5" x2="698" y2="210.5"/>
<line x1="683" y1="242.5" x2="698" y2="242.5"/>
<line x1="683" y1="274.5" x2="698" y2="274.5"/>
<line x1="683" y1="306.5" x2="698" y2="306.5"/>
<line x1="683" y1="338.5" x2="698" y2="338.5"/>
<line x1="683" y1="369.5" x2="698" y2="369.5"/>
<line x1="683" y1="401.5" x2="698" y2="401.5"/>
<line x1="683" y1="433.5" x2="698" y2="433.5"/>
<line x1="683" y1="465.5" x2="698" y2="465.5"/>
<line x1="683" y1="497.5" x2="698" y2="497.5"/>
</g></g>
</svg></body></html>
